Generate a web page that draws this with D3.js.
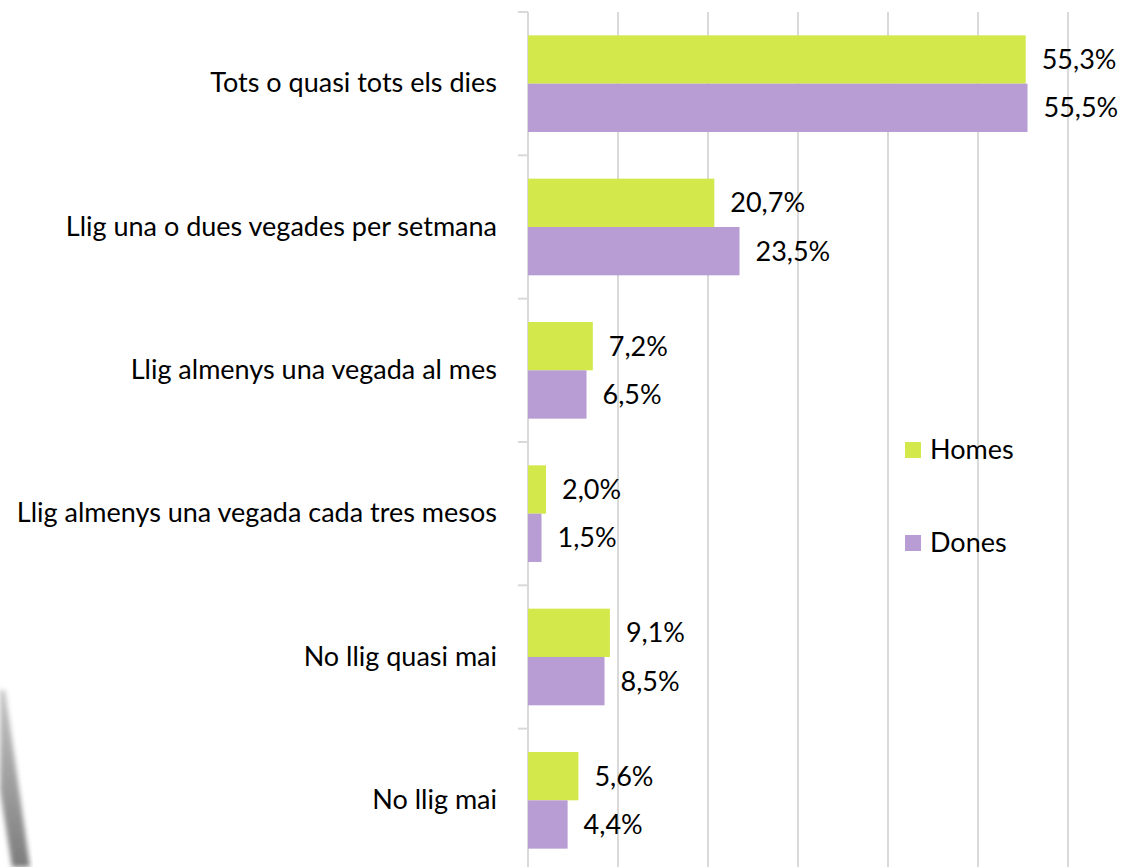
<!DOCTYPE html>
<html>
<head>
<meta charset="utf-8">
<script src="https://cdn.jsdelivr.net/npm/d3@7"></script>
<style>
  body { margin: 0; background: #fff; }
  svg { display: block; font-family: Lato, "Open Sans", sans-serif; }
</style>
</head>
<body>
<div class="chart"></div>
<script>
// chart size
const w = 1123;
const h = 867;
const fs = 27;

// data
const categories = [
  "Tots o quasi tots els dies",
  "Llig una o dues vegades per setmana",
  "Llig almenys una vegada al mes",
  "Llig almenys una vegada cada tres mesos",
  "No llig quasi mai",
  "No llig mai"
];
const series = ["Homes", "Dones"];
const homes = [55.3, 20.7, 7.2, 2.0, 9.1, 5.6];
const dones = [55.5, 23.5, 6.5, 1.5, 8.5, 4.4];
const xTicks = [0, 10, 20, 30, 40, 50, 60];

const colors = { Homes: "#d2e84b", Dones: "#b89cd4" };

const svg = d3.select(".chart").append("svg")
  .attr("width", w)
  .attr("height", h);

// faint background decoration (bottom left)
const defs = svg.append("defs");
defs.append("filter").attr("id", "blur")
  .append("feGaussianBlur").attr("stdDeviation", 2.5);
const grad = defs.append("linearGradient").attr("id", "fade")
  .attr("x1", 0).attr("y1", 0).attr("x2", 0).attr("y2", 1);
grad.append("stop").attr("offset", "0%").attr("stop-color", "#bbb");
grad.append("stop").attr("offset", "100%").attr("stop-color", "#666");
svg.append("path")
  .attr("d", "M0,690 L5,690 L30,867 L12,867 L0,790 Z")
  .attr("fill", "url(#fade)")
  .attr("opacity", 0.85)
  .attr("filter", "url(#blur)");

// scales
const x = d3.scaleLinear().domain([0, 60]).range([528, 1068]);
const y = d3.scaleBand().domain(categories).range([12, 12 + 6 * 143.33]).padding(0);
const ySub = d3.scaleBand().domain(series).range([0, y.bandwidth()])
  .paddingInner(0).paddingOuter(0.483);

// gridlines
svg.append("g")
  .selectAll("line")
  .data(xTicks.slice(1))
  .join("line")
  .attr("x1", d => x(d)).attr("x2", d => x(d))
  .attr("y1", 12).attr("y2", h)
  .attr("stroke", "#d9d9d9")
  .attr("stroke-width", 2);

// category axis
const yAxis = d3.axisLeft(y).tickSize(0).tickPadding(31);
const gy = svg.append("g")
  .attr("transform", "translate(" + x(0) + ",0)")
  .call(yAxis);
gy.select(".domain").remove();
gy.selectAll("text")
  .attr("font-size", fs)
  .attr("font-family", "Lato, 'Open Sans', sans-serif")
  .attr("fill", "#000");

// axis line and boundary ticks
svg.append("line")
  .attr("x1", x(0)).attr("x2", x(0))
  .attr("y1", 12).attr("y2", h)
  .attr("stroke", "#d9d9d9").attr("stroke-width", 2);
svg.append("g")
  .selectAll("line")
  .data(categories)
  .join("line")
  .attr("x1", x(0) - 10).attr("x2", x(0))
  .attr("y1", d => y(d)).attr("y2", d => y(d))
  .attr("stroke", "#d9d9d9").attr("stroke-width", 2);

// bars
const rows = categories.map((c, i) => ({ cat: c, Homes: homes[i], Dones: dones[i] }));
const groups = svg.append("g")
  .selectAll("g")
  .data(rows)
  .join("g")
  .attr("transform", d => "translate(0," + y(d.cat) + ")");

groups.selectAll("rect")
  .data(d => series.map(s => ({ key: s, value: d[s] })))
  .join("rect")
  .attr("x", x(0))
  .attr("y", d => ySub(d.key))
  .attr("width", d => x(d.value) - x(0))
  .attr("height", ySub.bandwidth())
  .attr("fill", d => colors[d.key]);

// value labels
const fmt = v => v.toFixed(1).replace(".", ",") + "%";
groups.selectAll("text")
  .data(d => series.map(s => ({ key: s, value: d[s] })))
  .join("text")
  .attr("x", d => x(d.value) + 16)
  .attr("y", d => ySub(d.key) + ySub.bandwidth() / 2)
  .attr("dy", "0.35em")
  .attr("font-size", fs)
  .attr("fill", "#000")
  .text(d => fmt(d.value));

// legend
const legend = svg.append("g")
  .selectAll("g")
  .data(series)
  .join("g")
  .attr("transform", (d, i) => "translate(905," + (442 + i * 93) + ")");
legend.append("rect")
  .attr("width", 16).attr("height", 16)
  .attr("fill", d => colors[d]);
legend.append("text")
  .attr("x", 25).attr("y", 8)
  .attr("dy", "0.35em")
  .attr("font-size", fs)
  .attr("fill", "#000")
  .text(d => d);
</script>
</body>
</html>
